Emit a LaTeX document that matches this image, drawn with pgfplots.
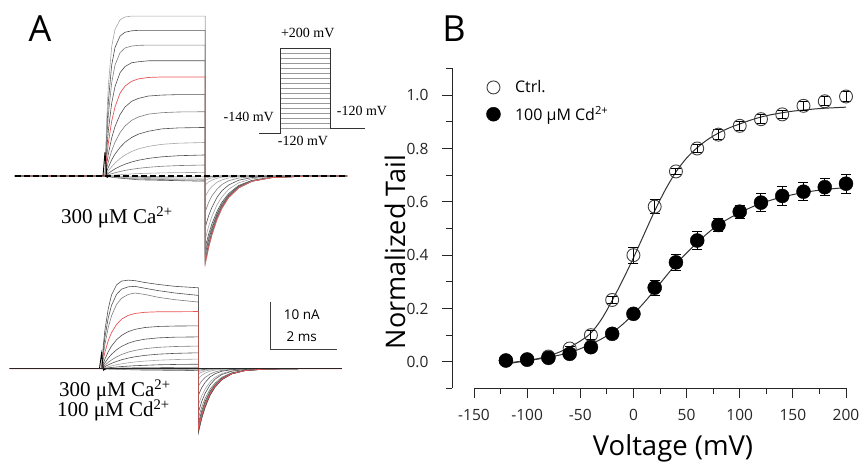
\documentclass[border=0pt]{standalone}
\usepackage{fontspec}
\setmainfont{Open Sans}
\newfontfamily\tnr{Liberation Serif}
\usepackage{pgfplots}
\pgfplotsset{compat=1.18}
\usepackage{pgfplotstable}
\definecolor{tg}{RGB}{165,165,165}
\definecolor{tm}{RGB}{125,125,125}
\definecolor{td}{RGB}{80,80,80}
\definecolor{tr}{RGB}{232,85,85}
\pgfplotsset{traceax/.style={hide axis, scale only axis, clip=false, anchor=south west, xmin=-3, xmax=9.5, width=417.5pt}}
\pgfplotstableread{
V N E
-120 0.005 0.005
-100 0.010 0.005
-80 0.020 0.006
-60 0.050 0.008
-40 0.100 0.016
-20 0.232 0.012
0 0.400 0.030
20 0.582 0.025
40 0.714 0.012
60 0.800 0.015
80 0.852 0.018
100 0.885 0.018
120 0.910 0.016
140 0.928 0.016
160 0.960 0.016
180 0.977 0.017
200 0.995 0.018
}\ctrl
\pgfplotstableread{
V N E
-120 0.005 0.005
-100 0.008 0.005
-80 0.015 0.005
-60 0.030 0.006
-40 0.055 0.008
-20 0.105 0.010
0 0.180 0.015
20 0.278 0.028
40 0.373 0.030
60 0.455 0.035
80 0.513 0.025
100 0.563 0.025
120 0.597 0.035
140 0.622 0.035
160 0.638 0.033
180 0.655 0.033
200 0.668 0.035
}\cadm
\begin{document}
\begin{tikzpicture}[x=1pt,y=1pt]
\useasboundingbox (0,0) rectangle (862,462);
% ---------------- Panel A, top traces (ms, nA)
\begin{axis}[traceax, at={(4.8pt,162.24pt)}, height=299.88pt, ymin=-26, ymax=37]
\addplot[td, line width=0.6pt] coordinates {(-2.7,0)(0,0)(0.3,-0.35)(1,-0.8)(3,-1.1)(3,-0.1)(3.3,0)(7.25,0)};
\addplot[tm, line width=0.6pt] coordinates {(-2.7,0)(0,0)(0.3,-0.3)(1,-0.65)(3,-0.9)(3,-0.2)(3.3,-0.05)(4,0)(7.25,0)};
\addplot[tg, line width=0.6pt] coordinates {(-2.7,0)(0,0)(0.3,-0.25)(1,-0.5)(3,-0.7)(3,-0.4)(3.1,-0.27)(3.2,-0.18)(3.35,-0.1)(3.5,-0.05)(4,0)(7.25,0)};
\addplot[tg, line width=0.6pt] coordinates {(-2.7,0)(0,0)(0.3,-0.15)(1,-0.3)(3,-0.45)(3,-0.9)(3.1,-0.6)(3.2,-0.4)(3.35,-0.22)(3.5,-0.12)(3.7,-0.05)(4,0)(7.25,0)};
\addplot[tg, line width=0.6pt] coordinates {(-2.7,0)(0,0)(0.3,-0.05)(1.0,-0.1)(3,-0.15)(3,-1.9)(3.1,-1.27)(3.2,-0.85)(3.35,-0.47)(3.5,-0.26)(3.7,-0.12)(4,-0.03)(4.4,0)(7.25,0)};
\addplot[tg, line width=0.6pt] coordinates {(-2.7,0)(0,0)(0.1,0.08)(0.3,0.21)(0.6,0.36)(1.0,0.51)(1.7,0.65)(2.2,0.71)(3,0.76)(3,-4.3)(3.1,-3.1)(3.2,-2.2)(3.35,-1.34)(3.5,-0.81)(3.7,-0.42)(4,-0.15)(4.4,-0.04)(5,0)(7.25,0)};
\addplot[tm, line width=0.6pt] coordinates {(-2.7,0)(0,0)(0.05,0.13)(0.1,0.25)(0.2,0.48)(0.3,0.68)(0.45,0.94)(0.6,1.17)(0.8,1.41)(1.0,1.61)(1.3,1.83)(1.7,2.04)(2.2,2.19)(3,2.31)(3,-7.5)(3.1,-5.6)(3.2,-4.2)(3.35,-2.8)(3.5,-1.8)(3.7,-1.0)(4,-0.43)(4.4,-0.14)(5,-0.02)(6,0)(7.25,0)};
\addplot[td, line width=0.6pt] coordinates {(-2.7,0)(0,0)(0.05,0.29)(0.1,0.56)(0.2,1.05)(0.3,1.49)(0.45,2.03)(0.6,2.48)(0.8,2.95)(1.0,3.31)(1.3,3.70)(1.7,4.03)(2.2,4.26)(3,4.42)(3,-10.8)(3.1,-8.4)(3.2,-6.6)(3.35,-4.5)(3.5,-3.1)(3.7,-1.9)(4,-0.89)(4.4,-0.32)(5,-0.07)(6,0)(7.25,0)};
\addplot[tg, line width=0.6pt] coordinates {(-2.7,0)(0,0)(0.05,0.55)(0.1,1.06)(0.2,1.96)(0.3,2.73)(0.45,3.66)(0.6,4.40)(0.8,5.15)(1.0,5.69)(1.3,6.23)(1.7,6.65)(2.2,6.89)(3,7.04)(3,-13.3)(3.1,-10.65)(3.2,-8.5)(3.35,-6.1)(3.5,-4.4)(3.7,-2.8)(4,-1.44)(4.4,-0.59)(5,-0.16)(6,-0.02)(7.25,0)};
\addplot[td, line width=0.6pt] coordinates {(-2.7,0)(0,0)(0.05,1.0)(0.1,1.8)(0.2,3.4)(0.3,4.6)(0.45,6.0)(0.6,7.1)(0.8,8.1)(1.0,8.8)(1.3,9.4)(1.7,9.9)(2.2,10.1)(3,10.2)(3,-15.0)(3.1,-12.3)(3.2,-10.05)(3.35,-7.5)(3.5,-5.5)(3.7,-3.7)(4,-2.0)(4.4,-0.92)(5,-0.27)(6,-0.04)(7.25,0)};
\addplot[tm, line width=0.6pt] coordinates {(-2.7,0)(0,0)(0.05,1.6)(0.1,3.0)(0.2,5.3)(0.3,7.1)(0.45,9.1)(0.6,10.5)(0.8,11.7)(1.0,12.4)(1.3,13.0)(1.7,13.3)(2.2,13.45)(3,13.5)(3,-15.9)(3.1,-13.0)(3.2,-10.7)(3.35,-7.9)(3.5,-5.85)(3.7,-3.9)(4,-2.1)(4.4,-0.97)(5,-0.29)(6,-0.04)(7.25,0)};
\addplot[td, line width=0.6pt] coordinates {(-2.7,0)(0,0)(0.05,2.5)(0.1,4.6)(0.2,8.0)(0.3,10.4)(0.45,12.9)(0.6,14.5)(0.8,15.7)(1.0,16.3)(1.3,16.8)(1.7,17.0)(2.2,17.1)(3,17.1)(3,-16.5)(3.1,-13.5)(3.2,-11.1)(3.35,-8.2)(3.5,-6.1)(3.7,-4.1)(4,-2.2)(4.4,-1.0)(5,-0.3)(6,-0.04)(7.25,0)};
\addplot[td, line width=0.6pt] coordinates {(-2.7,0)(0,0)(0.05,5.3)(0.1,9.5)(0.2,15.3)(0.3,18.8)(0.45,21.7)(0.6,23.0)(0.8,23.8)(1.0,24.0)(1.3,24.2)(3,24.2)(3,-17.4)(3.1,-14.3)(3.2,-11.7)(3.35,-8.6)(3.5,-6.4)(3.7,-4.3)(4,-2.35)(4.4,-1.06)(5,-0.31)(6,-0.04)(7.25,0)};
\addplot[tm, line width=0.6pt] coordinates {(-2.7,0)(0,0)(0.05,7.4)(0.1,12.8)(0.2,19.6)(0.3,23.3)(0.45,25.9)(0.6,26.9)(0.8,27.3)(1.0,27.45)(1.3,27.5)(3,27.5)(3,-18.0)(3.1,-14.7)(3.2,-12.1)(3.35,-8.9)(3.5,-6.6)(3.7,-4.4)(4,-2.4)(4.4,-1.1)(5,-0.32)(6,-0.05)(7.25,0)};
\addplot[td, line width=0.6pt] coordinates {(-2.7,0)(0,0)(0.05,9.2)(0.1,15.6)(0.2,23.3)(0.3,27.0)(0.45,29.4)(0.6,30.2)(0.8,30.5)(1.0,30.6)(3,30.6)(3,-18.2)(3.1,-14.9)(3.2,-12.2)(3.35,-9.0)(3.5,-6.7)(3.7,-4.5)(4,-2.5)(4.4,-1.1)(5,-0.33)(6,-0.05)(7.25,0)};
\addplot[tg, line width=0.6pt] coordinates {(-2.7,0)(0,0)(0.05,11.5)(0.1,19.0)(0.2,27.2)(0.3,30.8)(0.45,32.8)(0.6,33.4)(0.8,33.6)(3,33.6)(3,-18.7)(3.1,-15.3)(3.2,-12.5)(3.35,-9.3)(3.5,-6.9)(3.7,-4.6)(4,-2.5)(4.4,-1.1)(5,-0.34)(6,-0.05)(7.25,0)};
\addplot[tr, line width=0.7pt] coordinates {(-2.7,0)(0,0)(0.05,3.8)(0.1,6.9)(0.2,11.5)(0.3,14.5)(0.45,17.4)(0.6,18.9)(0.8,19.9)(1.0,20.4)(1.3,20.7)(1.7,20.8)(3,20.8)(3,-18.3)(3.1,-15.0)(3.2,-12.3)(3.35,-9.1)(3.5,-6.7)(3.7,-4.5)(4,-2.5)(4.4,-1.1)(5,-0.33)(6,-0.05)(7.25,0)};
\addplot[black, line width=0.9pt] coordinates {(-0.06,0)(0,5.0)(0.06,-0.3)(0.14,0)};
\addplot[black, line width=1.3pt, dash pattern=on 6pt off 3pt] coordinates {(-2.7,0)(7.25,0)};
\end{axis}
% ---------------- Panel A, bottom traces (ms, nA)
\begin{axis}[traceax, at={(1.3pt,17.14pt)}, height=180.88pt, ymin=-16, ymax=22]
\addplot[td, line width=0.6pt] coordinates {(-2.75,0)(0,0)(1,-0.25)(2.9,-0.4)(2.9,-0.3)(3.2,-0.08)(3.6,0)(7.2,0)};
\addplot[tg, line width=0.6pt] coordinates {(-2.75,0)(0,0)(1,-0.2)(2.9,-0.3)(2.9,-0.6)(3.1,-0.27)(3.4,-0.08)(3.9,0)(7.2,0)};
\addplot[tg, line width=0.6pt] coordinates {(-2.75,0)(0,0)(2.9,-0.2)(2.9,-1.1)(3.0,-0.74)(3.1,-0.49)(3.25,-0.27)(3.4,-0.15)(3.6,-0.07)(3.9,0)(7.2,0)};
\addplot[tg, line width=0.6pt] coordinates {(-2.75,0)(0,0)(1.0,-0.05)(2.9,-0.1)(2.9,-2.1)(3.0,-1.4)(3.1,-0.94)(3.25,-0.52)(3.4,-0.28)(3.6,-0.13)(3.9,-0.04)(4.3,0)(7.2,0)};
\addplot[tm, line width=0.6pt] coordinates {(-2.75,0)(0,0)(0.3,0.1)(1.0,0.2)(2.9,0.3)(2.9,-3.6)(3.0,-2.6)(3.1,-1.85)(3.25,-1.12)(3.4,-0.68)(3.6,-0.35)(3.9,-0.13)(4.3,-0.03)(4.9,0)(7.2,0)};
\addplot[td, line width=0.6pt] coordinates {(-2.75,0)(0,0)(0.1,0.095)(0.3,0.26)(0.6,0.45)(1.0,0.63)(1.7,0.82)(2.2,0.89)(2.9,0.945)(2.9,-5.6)(3.0,-4.0)(3.1,-2.9)(3.25,-1.74)(3.4,-1.06)(3.6,-0.54)(3.9,-0.2)(4.3,-0.05)(4.9,0)(7.2,0)};
\addplot[tg, line width=0.6pt] coordinates {(-2.75,0)(0,0)(0.1,0.22)(0.2,0.42)(0.3,0.60)(0.45,0.83)(0.6,1.02)(0.8,1.24)(1.0,1.41)(1.3,1.60)(1.7,1.78)(2.2,1.92)(2.9,2.02)(2.9,-7.6)(3.0,-5.7)(3.1,-4.3)(3.25,-2.8)(3.4,-1.8)(3.6,-1.03)(3.9,-0.44)(4.3,-0.14)(4.9,-0.03)(5.9,0)(7.2,0)};
\addplot[td, line width=0.6pt] coordinates {(-2.75,0)(0,0)(0.05,0.22)(0.1,0.43)(0.2,0.80)(0.3,1.12)(0.45,1.53)(0.6,1.87)(0.8,2.23)(1.0,2.50)(1.3,2.80)(1.7,3.05)(2.2,3.22)(2.9,3.34)(2.9,-9.2)(3.0,-6.9)(3.1,-5.2)(3.25,-3.4)(3.4,-2.2)(3.6,-1.24)(3.9,-0.53)(4.3,-0.17)(4.9,-0.03)(5.9,0)(7.2,0)};
\addplot[tm, line width=0.6pt] coordinates {(-2.75,0)(0,0)(0.05,0.37)(0.1,0.72)(0.2,1.32)(0.3,1.84)(0.45,2.48)(0.6,2.98)(0.8,3.48)(1.0,3.84)(1.3,4.21)(1.7,4.49)(2.2,4.66)(2.9,4.76)(2.9,-10.4)(3.0,-8.1)(3.1,-6.3)(3.25,-4.3)(3.4,-3.0)(3.6,-1.8)(3.9,-0.85)(4.3,-0.31)(4.9,-0.07)(5.9,0)(7.2,0)};
\addplot[td, line width=0.6pt] coordinates {(-2.75,0)(0,0)(0.05,0.64)(0.1,1.21)(0.2,2.21)(0.3,3.02)(0.45,3.97)(0.6,4.68)(0.8,5.35)(1.0,5.80)(1.3,6.20)(1.7,6.48)(2.2,6.62)(2.9,6.68)(2.9,-11.4)(3.0,-8.9)(3.1,-6.9)(3.25,-4.75)(3.4,-3.3)(3.6,-2.0)(3.9,-0.93)(4.3,-0.34)(4.9,-0.08)(5.9,0)(7.2,0)};
\addplot[td, line width=0.6pt] coordinates {(-2.75,0)(0,0)(0.05,1.06)(0.1,1.99)(0.2,3.54)(0.3,4.75)(0.45,6.08)(0.6,6.99)(0.8,7.79)(1.0,8.26)(1.3,8.65)(1.7,8.87)(2.2,8.96)(2.9,9.0)(2.9,-12.1)(3.0,-9.4)(3.1,-7.3)(3.25,-5.0)(3.4,-3.5)(3.6,-2.1)(3.9,-0.99)(4.3,-0.36)(4.9,-0.08)(5.9,0)(7.2,0)};
\addplot[tm, line width=0.6pt] coordinates {(-2.75,0)(0,0)(0.05,2.7)(0.1,5.0)(0.2,8.6)(0.3,11.1)(0.45,13.5)(0.6,14.8)(0.8,15.6)(1.0,15.9)(1.3,15.6)(1.7,15.0)(2.2,14.5)(2.9,14.0)(2.9,-12.9)(3.0,-10.05)(3.1,-7.8)(3.25,-5.4)(3.4,-3.7)(3.6,-2.24)(3.9,-1.06)(4.3,-0.39)(4.9,-0.09)(5.9,0)(7.2,0)};
\addplot[td, line width=0.6pt] coordinates {(-2.75,0)(0,0)(0.05,3.5)(0.1,6.5)(0.2,10.6)(0.3,13.3)(0.45,15.6)(0.6,16.7)(0.8,17.2)(1.0,17.3)(1.3,16.9)(1.7,16.4)(2.2,15.9)(2.9,15.4)(2.9,-13.1)(3.0,-10.2)(3.1,-7.95)(3.25,-5.5)(3.4,-3.76)(3.6,-2.28)(3.9,-1.07)(4.3,-0.39)(4.9,-0.09)(5.9,0)(7.2,0)};
\addplot[td, line width=0.6pt] coordinates {(-2.75,0)(0,0)(0.05,4.5)(0.1,8)(0.2,12.5)(0.3,15.5)(0.45,17.6)(0.6,18.4)(0.8,18.6)(1.0,18.5)(1.3,18.1)(1.7,17.7)(2.2,17.3)(2.9,17.0)(2.9,-13.5)(3.0,-10.5)(3.1,-8.2)(3.25,-5.6)(3.4,-3.9)(3.6,-2.35)(3.9,-1.1)(4.3,-0.41)(4.9,-0.09)(5.9,0)(7.2,0)};
\addplot[tr, line width=0.7pt] coordinates {(-2.75,0)(0,0)(0.05,1.84)(0.1,3.4)(0.2,5.84)(0.3,7.58)(0.45,9.3)(0.6,10.4)(0.8,11.2)(1.0,11.6)(1.3,11.85)(1.7,11.96)(2.9,12.0)(2.9,-12.6)(3.0,-9.8)(3.1,-7.65)(3.25,-5.25)(3.4,-3.6)(3.6,-2.2)(3.9,-1.03)(4.3,-0.38)(4.9,-0.08)(5.9,0)(7.2,0)};
\addplot[black, line width=0.9pt] coordinates {(-0.06,0)(0,3.2)(0.06,-0.3)(0.14,0)};
\addplot[black!85, line width=1.1pt] coordinates {(-2.75,0)(7.2,0)};
% scale bar: 10 nA, 2 ms
\addplot[black!75, line width=1.1pt] coordinates {(5.05,14.08)(5.05,4.08)(7.05,4.08)};
\end{axis}
% ---------------- voltage protocol inset (arbitrary time, mV)
\begin{axis}[hide axis, scale only axis, clip=false, anchor=south west, at={(259.25pt,328.7pt)},
  width=105.6pt, height=85pt, xmin=-1.3, xmax=5.1, ymin=-140, ymax=200]
\addplot[black!40, line width=0.5pt] coordinates {(0,-120)(3,-120)(3,-100)(0,-100)(0,-80)(3,-80)(3,-60)(0,-60)(0,-40)(3,-40)(3,-20)(0,-20)(0,0)(3,0)(3,20)(0,20)(0,40)(3,40)(3,60)(0,60)(0,80)(3,80)(3,100)(0,100)(0,120)(3,120)(3,140)(0,140)(0,160)(3,160)(3,180)(0,180)(0,200)(3,200)};
\addplot[black!80, line width=0.7pt] coordinates {(-1.3,-140)(0,-140)(0,200)(3,200)(3,-120)(5.1,-120)};
\end{axis}
% ---------------- Panel B
\begin{axis}[at={(474pt,73.5pt)}, anchor=south west, scale only axis, width=372pt, height=320pt,
  xmin=-150, xmax=200, ymin=-0.1, ymax=1.1, clip=false,
  axis lines=left, axis line style={-, line width=1pt, black!85},
  axis y line shift=22pt,
  tick align=outside, major tick length=10pt, minor tick length=6pt,
  tick style={line width=1pt, black!85},
  xtick={-150,-100,-50,0,50,100,150,200}, xticklabels={-150,-100,-50,0,50,100,150,200},
  minor xtick={-125,-75,-25,25,75,125,175},
  ytick={0,0.2,0.4,0.6,0.8,1.0}, yticklabels={0.0,0.2,0.4,0.6,0.8,1.0},
  minor ytick={-0.1,0.1,0.3,0.5,0.7,0.9,1.1},
  ticklabel style={font=\fontsize{15.5}{17}\selectfont, text=black!85},
  xticklabel style={yshift=-7pt},
  yticklabel style={xshift=-10pt},
  legend style={at={(0.033,0.969)}, anchor=north west, draw=none, fill=none, inner sep=0pt,
    font=\fontsize{16}{19}\selectfont, row sep=8pt},
  legend image code/.code={\draw[mark repeat=2,mark phase=2,#1] plot coordinates {(0cm,0cm) (0.3cm,0cm) (0.6cm,0cm)}; \path[draw=none,fill=none] (0.6cm,0pt) -- (0.6cm+11pt,0pt);},
  legend cell align=left,
]
\addplot[black!80, line width=1pt, smooth, forget plot] coordinates {(-120,-0.004)(-110,0.000)(-100,0.005)(-90,0.012)(-80,0.022)(-70,0.036)(-60,0.055)(-50,0.078)(-40,0.108)(-30,0.160)(-20,0.230)(-10,0.307)(0,0.390)(10,0.478)(20,0.566)(30,0.645)(40,0.712)(50,0.764)(60,0.803)(70,0.834)(80,0.858)(90,0.877)(100,0.892)(110,0.906)(120,0.918)(130,0.927)(140,0.934)(150,0.940)(160,0.944)(170,0.948)(180,0.951)(190,0.953)(200,0.955)};
\addplot[black!80, line width=1pt, smooth, forget plot] coordinates {(-120,-0.008)(-110,-0.002)(-100,0.005)(-90,0.010)(-80,0.017)(-70,0.025)(-60,0.035)(-50,0.049)(-40,0.066)(-30,0.086)(-20,0.110)(-10,0.141)(0,0.179)(10,0.222)(20,0.269)(30,0.318)(40,0.366)(50,0.408)(60,0.447)(70,0.483)(80,0.514)(90,0.538)(100,0.559)(110,0.578)(120,0.594)(130,0.607)(140,0.618)(150,0.627)(160,0.635)(170,0.641)(180,0.646)(190,0.650)(200,0.653)};
\addplot[only marks, mark=o, mark size=6.5pt, mark options={draw=black!75, line width=0.9pt},
  error bars/.cd, y dir=both, y explicit, error bar style={black, line width=1pt},
  error mark options={rotate=90, black, mark size=5pt, line width=1pt}]
  table[x=V, y=N, y error=E] {\ctrl};
\addlegendentry{Ctrl.}
\addplot[only marks, mark=*, mark size=7pt, mark options={draw=black, fill=black},
  error bars/.cd, y dir=both, y explicit, error bar style={black, line width=1pt},
  error mark options={rotate=90, black, mark size=5pt, line width=1pt}]
  table[x=V, y=N, y error=E] {\cadm};
\addlegendentry{100 μM Cd\textsuperscript{2+}}
\end{axis}
% ---------------- text
\node[anchor=base, inner sep=0, font=\fontsize{36}{36}\selectfont] at (40,420) {A};
\node[anchor=base, inner sep=0, font=\fontsize{36}{36}\selectfont] at (454,420) {B};
\node[anchor=base, inner sep=0, rotate=90, font=\fontsize{27}{27}\selectfont] at (405,210) {Normalized Tail};
\node[anchor=base, inner sep=0, font=\fontsize{27.5}{28}\selectfont] at (673,6) {Voltage (mV)};
\node[anchor=base west, inner sep=0, font=\tnr\fontsize{21}{22}\selectfont] at (61,238) {300 μM Ca\textsuperscript{2+}};
\node[anchor=base west, inner sep=0, font=\tnr\fontsize{21}{22}\selectfont] at (59,65) {300 μM Ca\textsuperscript{2+}};
\node[anchor=base west, inner sep=0, font=\tnr\fontsize{21}{22}\selectfont] at (57,45) {100 μM Cd\textsuperscript{2+}};
\node[anchor=base, inner sep=0, font=\tnr\fontsize{14}{15}\selectfont] at (307.7,424.3) {+200 mV};
\node[anchor=base east, inner sep=0, font=\tnr\fontsize{14}{15}\selectfont] at (274,340.3) {-140 mV};
\node[anchor=base west, inner sep=0, font=\tnr\fontsize{14}{15}\selectfont] at (336.7,346) {-120 mV};
\node[anchor=base, inner sep=0, font=\tnr\fontsize{14}{15}\selectfont] at (303,316.3) {-120 mV};
\node[anchor=base, inner sep=0, font=\fontsize{13.5}{14}\selectfont] at (301.7,142.7) {10 nA};
\node[anchor=base, inner sep=0, font=\fontsize{13.5}{14}\selectfont] at (301.7,120.3) {2 ms};
\end{tikzpicture}
\end{document}
